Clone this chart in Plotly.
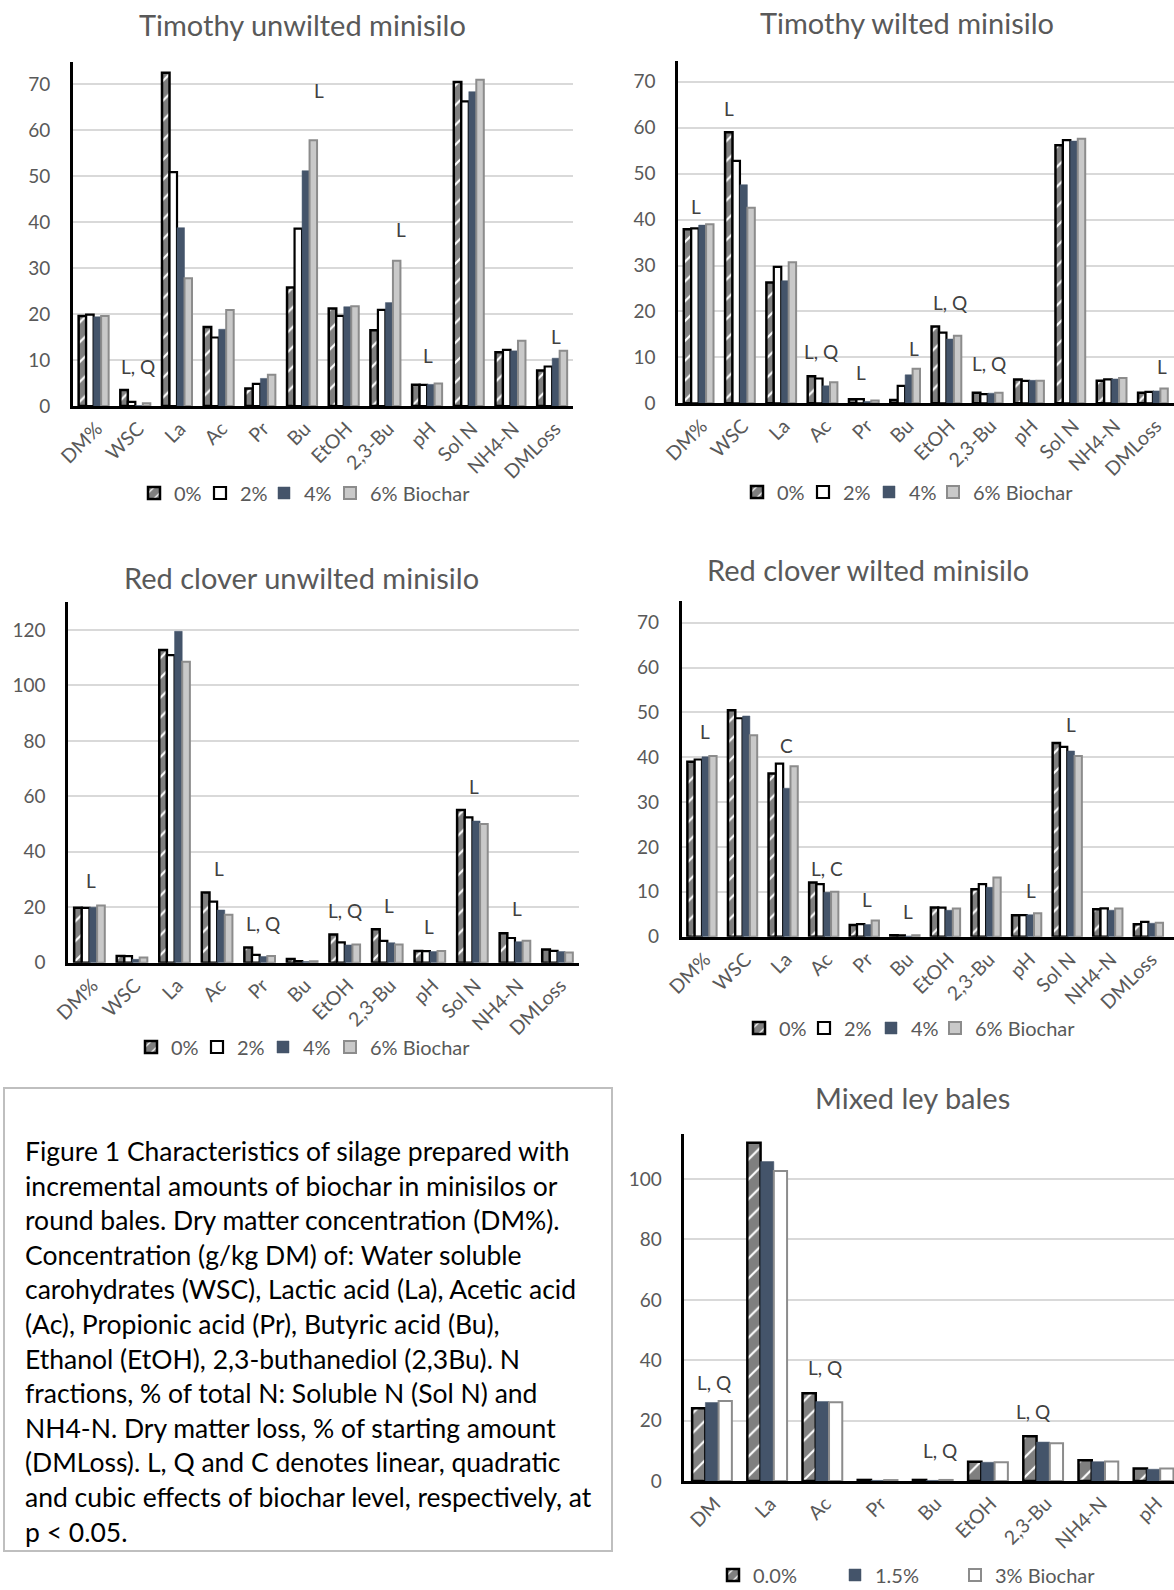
import plotly.graph_objects as go

W, H = 1174, 1590

# ---------------- data ----------------
cats_min = ["DM%", "WSC", "La", "Ac", "Pr", "Bu", "EtOH", "2,3-Bu", "pH", "Sol N", "NH4-N", "DMLoss"]
cats_bale = ["DM", "La", "Ac", "Pr", "Bu", "EtOH", "2,3-Bu", "NH4-N", "pH"]

levels_min = ["0%", "2%", "4%", "6% Biochar"]
levels_bale = ["0.0%", "1.5%", "3% Biochar"]

# Timothy unwilted minisilo
tim_unw_0 = [19.6, 3.5, 72.5, 17.2, 3.8, 25.8, 21.2, 16.5, 4.6, 70.5, 11.7, 7.7]
tim_unw_2 = [19.9, 0.9, 50.9, 14.9, 4.8, 38.6, 19.6, 20.9, 4.6, 66.3, 12.2, 8.6]
tim_unw_4 = [19.4, 0.1, 38.8, 16.7, 6.0, 51.2, 21.6, 22.5, 4.7, 68.4, 12.0, 10.4]
tim_unw_6 = [19.6, 0.6, 27.8, 20.9, 6.8, 57.8, 21.7, 31.6, 4.9, 71.0, 14.2, 12.0]
tim_unw_sig = {"WSC": "L, Q", "La": "L", "Bu": "L", "2,3-Bu": "L", "pH": "L", "Sol N": "Q", "DMLoss": "L"}

# Timothy wilted minisilo
tim_wil_0 = [37.9, 59.0, 26.3, 5.9, 0.9, 0.7, 16.7, 2.3, 5.2, 56.2, 4.9, 2.3]
tim_wil_2 = [38.1, 52.8, 29.7, 5.4, 0.9, 3.8, 15.4, 2.0, 4.9, 57.3, 5.2, 2.5]
tim_wil_4 = [38.8, 47.6, 26.7, 3.8, 0.4, 6.2, 14.0, 2.2, 5.0, 57.1, 5.3, 2.7]
tim_wil_6 = [39.0, 42.6, 30.7, 4.6, 0.6, 7.5, 14.7, 2.3, 4.9, 57.6, 5.5, 3.2]
tim_wil_sig = {"DM%": "L", "WSC": "L", "Ac": "L, Q", "Pr": "L", "Bu": "L", "EtOH": "L, Q", "2,3-Bu": "L, Q", "DMLoss": "L"}

# Red clover unwilted minisilo
rc_unw_0 = [19.8, 2.4, 112.8, 25.3, 5.5, 1.3, 10.2, 12.1, 4.2, 55.1, 10.6, 4.8]
rc_unw_2 = [19.8, 2.4, 110.9, 22.0, 2.8, 0.6, 7.3, 7.9, 4.2, 52.4, 8.9, 4.3]
rc_unw_4 = [20.0, 1.2, 119.5, 19.0, 2.2, 0.4, 6.4, 7.2, 4.0, 51.1, 7.6, 4.0]
rc_unw_6 = [20.6, 1.9, 108.5, 17.3, 2.4, 0.5, 6.6, 6.6, 4.2, 50.0, 7.9, 3.7]
rc_unw_sig = {"DM%": "L", "Ac": "L", "Pr": "L, Q", "EtOH": "L, Q", "2,3-Bu": "L", "pH": "L", "Sol N": "L", "NH4-N": "L"}

# Red clover wilted minisilo
rc_wil_0 = [39.0, 50.5, 36.4, 12.1, 2.6, 0.3, 6.5, 10.6, 4.8, 43.2, 6.1, 2.8]
rc_wil_2 = [39.5, 48.7, 38.6, 11.7, 2.8, 0.3, 6.5, 11.7, 4.8, 42.3, 6.3, 3.3]
rc_wil_4 = [40.1, 49.2, 33.1, 9.9, 2.7, 0.15, 5.9, 11.0, 4.9, 41.4, 5.9, 3.0]
rc_wil_6 = [40.3, 44.9, 38.0, 10.0, 3.6, 0.3, 6.3, 13.2, 5.2, 40.3, 6.3, 3.1]
rc_wil_sig = {"DM%": "L", "La": "C", "Ac": "L, C", "Pr": "L", "Bu": "L", "pH": "L", "Sol N": "L"}

# Mixed ley bales
bale_0 = [24.1, 112.0, 29.1, 0.35, 0.35, 6.4, 14.8, 6.9, 4.1]
bale_15 = [26.0, 105.8, 26.3, 0.2, 0.2, 6.2, 12.9, 6.4, 3.9]
bale_3 = [26.5, 102.7, 26.1, 0.3, 0.35, 6.2, 12.5, 6.5, 4.1]
bale_sig = {"DM": "L, Q", "La": "L, Q", "Ac": "L, Q", "Bu": "L, Q", "2,3-Bu": "L, Q"}

caption_lines = [
    "Figure 1 Characteristics of silage prepared with",
    "incremental amounts of biochar in minisilos or",
    "round bales. Dry matter concentration (DM%).",
    "Concentration (g/kg DM) of: Water soluble",
    "carohydrates (WSC), Lactic acid (La), Acetic acid",
    "(Ac), Propionic acid (Pr), Butyric acid (Bu),",
    "Ethanol (EtOH), 2,3-buthanediol (2,3Bu). N",
    "fractions, % of total N: Soluble N (Sol N) and",
    "NH4-N. Dry matter loss, % of starting amount",
    "(DMLoss). L, Q and C denotes linear, quadratic",
    "and cubic effects of biochar level, respectively, at",
    "p < 0.05.",
]

# ---------------- layout / style settings ----------------
FONT = "Lato, 'Open Sans', sans-serif"
GREY_TXT = "#595959"
BLUE = "#44546A"


def px(x):
    return x / W


def py(y):
    return 1 - y / H


HATCH = dict(color="white", pattern=dict(shape="/", fgcolor="black", bgcolor="white", size=14, solidity=0.85),
             line=dict(color="black", width=2.5))
WHITE_BLACK = dict(color="white", line=dict(color="black", width=2.2))
BLUE_M = dict(color=BLUE, line=dict(color=BLUE, width=0.5))
GREY_M = dict(color="#c9c9c9", line=dict(color="#8c8c8c", width=2))
WHITE_GREY = dict(color="white", line=dict(color="#8c8c8c", width=2))

panels = [
    dict(name="Timothy unwilted minisilo", x0=72.8, x1=573, yb=406, yt=62, ymax=74.85, dtick=10,
         xr=11.5, title=(302, 25), leg_x=[154, 220, 284, 350], leg_y=493),
    dict(name="Timothy wilted minisilo", x0=678, x1=1174, yb=403.3, yt=60.7, ymax=74.6, dtick=10,
         xr=11.51, title=(907, 23), leg_x=[757, 823, 889, 953], leg_y=492),
    dict(name="Red clover unwilted minisilo", x0=68.2, x1=578.8, yb=962.7, yt=601.7, ymax=130.2, dtick=20,
         xr=11.5, title=(301, 578), leg_x=[151, 217, 283, 350], leg_y=1047),
    dict(name="Red clover wilted minisilo", x0=681.7, x1=1174, yb=936.7, yt=600.7, ymax=74.9, dtick=10,
         xr=11.63, title=(868, 570), leg_x=[759, 824, 891, 955], leg_y=1028),
    dict(name="Mixed ley bales", x0=684.4, x1=1174, yb=1481, yt=1134.4, ymax=114.8, dtick=20,
         xr=8.37, title=(912, 1097), leg_x=[733, 855, 975], leg_y=1575),
]

# significance label placement (y value, x shift px)
sig_pos = [
    {"WSC": (8.5, 3), "La": (77.4, -11), "Bu": (68.7, 17), "2,3-Bu": (38.3, 16), "pH": (10.9, 1),
     "Sol N": (75.6, 1), "DMLoss": (15.1, 4)},
    {"DM%": (42.9, -3), "WSC": (64.2, -11), "Ac": (11.2, -2), "Pr": (6.7, -3), "Bu": (12.0, 9),
     "EtOH": (21.9, 4), "2,3-Bu": (8.7, 1), "DMLoss": (8.0, 9)},
    {"DM%": (29.8, 2), "Ac": (34.0, 2), "Pr": (14.2, 3), "EtOH": (19.0, 0), "2,3-Bu": (20.8, 2),
     "pH": (13.2, -1), "Sol N": (63.5, 2), "NH4-N": (19.6, 2)},
    {"DM%": (45.7, 3), "La": (42.6, 3), "Ac": (15.2, 3), "Pr": (8.2, 3), "Bu": (5.7, 3),
     "pH": (10.4, 4), "Sol N": (47.2, 4)},
    {"DM": (32.5, 2), "La": (119.8, 1), "Ac": (37.5, 3), "Bu": (10.1, 7), "2,3-Bu": (23.0, -10)},
]

series_sets = [
    (cats_min, levels_min, [tim_unw_0, tim_unw_2, tim_unw_4, tim_unw_6], [HATCH, WHITE_BLACK, BLUE_M, GREY_M], tim_unw_sig),
    (cats_min, levels_min, [tim_wil_0, tim_wil_2, tim_wil_4, tim_wil_6], [HATCH, WHITE_BLACK, BLUE_M, GREY_M], tim_wil_sig),
    (cats_min, levels_min, [rc_unw_0, rc_unw_2, rc_unw_4, rc_unw_6], [HATCH, WHITE_BLACK, BLUE_M, GREY_M], rc_unw_sig),
    (cats_min, levels_min, [rc_wil_0, rc_wil_2, rc_wil_4, rc_wil_6], [HATCH, WHITE_BLACK, BLUE_M, GREY_M], rc_wil_sig),
    (cats_bale, levels_bale, [bale_0, bale_15, bale_3], [HATCH, BLUE_M, WHITE_GREY], bale_sig),
]

fig = go.Figure()
layout = dict(
    width=W, height=H, margin=dict(l=0, r=0, t=0, b=0, autoexpand=False),
    paper_bgcolor="white", plot_bgcolor="white",
    font=dict(family=FONT, color=GREY_TXT, size=19),
    barmode="group", bargroupgap=0.0, bargap=0.28,
    showlegend=True,
)
annotations = []
shapes = []
leg_counter = 0

for i, (p, (cats, levels, vals, styles, sig)) in enumerate(zip(panels, series_sets)):
    n = i + 1
    xa = "x" if n == 1 else f"x{n}"
    ya = "y" if n == 1 else f"y{n}"
    for j, (lvl, v, st) in enumerate(zip(levels, vals, styles)):
        leg_counter += 1
        leg = "legend" if leg_counter == 1 else f"legend{leg_counter}"
        fig.add_trace(go.Bar(x=cats, y=v, name=lvl, marker=st, xaxis=xa, yaxis=ya, legend=leg,
                             offsetgroup=f"{n}-{lvl}", hoverinfo="skip"))
        layout[leg] = dict(orientation="h", x=px(p["leg_x"][j] - 20), y=py(p["leg_y"]), xanchor="left",
                           yanchor="middle", font=dict(size=20, color=GREY_TXT), bgcolor="rgba(0,0,0,0)",
                           borderwidth=0, itemwidth=30, itemclick=False, itemdoubleclick=False)
    xkey = "xaxis" if n == 1 else f"xaxis{n}"
    ykey = "yaxis" if n == 1 else f"yaxis{n}"
    layout[xkey] = dict(domain=[px(p["x0"]), px(p["x1"])], anchor=ya, range=[-0.5, p["xr"]],
                        type="category", showline=True, linecolor="black", linewidth=2.5,
                        showgrid=False, ticks="", tickangle=-45, ticklabelstandoff=1, ticklabelshift=3,
                        tickfont=dict(size=19.5, color=GREY_TXT), automargin=False)
    layout[ykey] = dict(domain=[py(p["yb"]), py(p["yt"])], anchor=xa, range=[0, p["ymax"]],
                        dtick=p["dtick"], tick0=0, showline=True, linecolor="black", linewidth=2.5,
                        showgrid=True, gridcolor="#d9d9d9", gridwidth=2, zeroline=False, ticks="",
                        ticklabelstandoff=16, tickfont=dict(size=19, color=GREY_TXT), automargin=False)
    annotations.append(dict(text=p["name"], x=px(p["title"][0]), y=py(p["title"][1]), xref="paper",
                            yref="paper", xanchor="center", yanchor="middle", showarrow=False,
                            font=dict(size=29, color=GREY_TXT)))
    for cat, label in sig.items():
        yv, sh = sig_pos[i][cat]
        annotations.append(dict(text=label, x=cat, y=yv, xref=xa, yref=ya, xshift=sh,
                                xanchor="center", yanchor="middle", showarrow=False,
                                font=dict(size=19, color="#404040")))

# caption box
shapes.append(dict(type="rect", xref="paper", yref="paper", x0=px(4), x1=px(612), y0=py(1551), y1=py(1088),
                   line=dict(color="#bfbfbf", width=2), fillcolor="rgba(0,0,0,0)"))
for k, line in enumerate(caption_lines):
    annotations.append(dict(text=line, x=px(23), y=py(1151 + k * 34.6), xref="paper", yref="paper",
                            xanchor="left", yanchor="middle", showarrow=False,
                            font=dict(size=26.5, color="black")))

layout["annotations"] = annotations
layout["shapes"] = shapes
fig.update_layout(**layout)
fig.write_html("out.html")
